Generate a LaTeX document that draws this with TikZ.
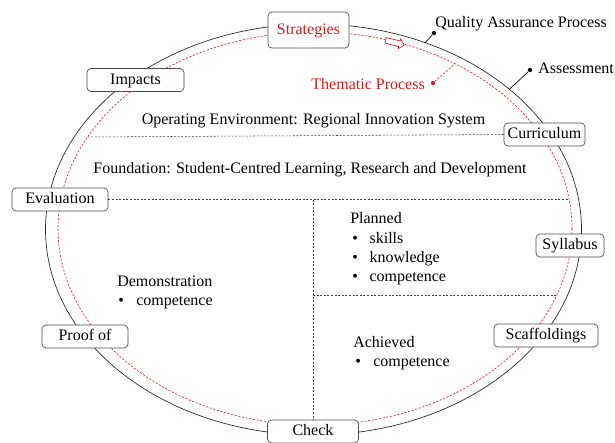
\documentclass[tikz,border=0pt]{standalone}
\usepackage{fontspec}
\setmainfont{Liberation Serif}
\usetikzlibrary{shapes.arrows}
\definecolor{redc}{RGB}{205,30,30}
\begin{document}
\begin{tikzpicture}[x=0.75pt,y=-0.75pt,
  box/.style={draw=black!70, rounded corners=3pt, fill=white, minimum height=17.25pt,
    text height=9pt, text depth=3pt, inner sep=0pt, font=\fontsize{12}{14.5}\selectfont, line width=0.5pt},
  lbl/.style={inner sep=0pt, font=\fontsize{12}{14.5}\selectfont},
  dl/.style={dash pattern=on 1.5pt off 1.2pt, line width=0.4pt, black!75},
  rdl/.style={dash pattern=on 1.6pt off 1.2pt, line width=0.45pt, redc},
  dotc/.style={circle, fill=#1, inner sep=0pt, minimum size=3.2pt},
  bul/.style={lbl, anchor=base west}
]
\useasboundingbox (0,0) rectangle (615,443);
% ellipses
\draw[line width=0.5pt, black!85] (313.5,229.5) ellipse [x radius=268, y radius=205.5];
\draw[rdl] (315,228.5) ellipse [x radius=257, y radius=196.5];
% ellipse contact points
\coordinate (qac) at (425.1,42.7);
\coordinate (asc) at (509.5,89.3);
\coordinate (thc) at (455,63.7);
\coordinate (l1a) at (87.6,137);
\coordinate (l2b) at (569,199.5);
\coordinate (l3b) at (556.8,295);
% nodes on ellipse
\node[box, minimum width=60.75pt, minimum height=27pt, text=redc] (str) at (308.5,30) {Strategies};
\node[box, minimum width=72.75pt] (imp) at (135.5,80) {Impacts};
\node[box, minimum width=72pt] (eva) at (60,199.5) {Evaluation};
\node[box, minimum width=60.75pt] (cur) at (544.5,134.5) {Curriculum};
\node[box, minimum width=51pt] (syl) at (570,245.5) {Syllabus};
\node[box, minimum width=78pt] (sca) at (546,335.5) {Scaffoldings};
\node[box, minimum width=64.5pt] (pro) at (85,336.5) {Proof of};
\node[box, minimum width=68.25pt] (chk) at (313,431.5) {Check};
% dashed partition lines
\draw[dl] (l1a) -- (cur.west);
\draw[dl] (eva.east) -- (l2b);
\coordinate (vtop) at (313,199.5);
\draw[dl] (vtop) -- (chk.north);
\coordinate (l3a) at (313,295);
\draw[dl] (l3a) -- (l3b);
% arrow on red ellipse
\node[single arrow, draw=redc, fill=white, line width=0.5pt, rotate=-13.8,
  minimum height=14.5pt, inner sep=1.9pt, single arrow head extend=1.6pt] (arr) at (393.5,42.3) {};
% outside labels
\node[lbl, anchor=base west] (qa) at (435,27) {Quality Assurance Process};
\node[dotc=black] (qad) at (434,33) {};
\draw[line width=0.5pt] (qad) -- (qac);
\node[lbl, anchor=base west] (as) at (538,73) {Assessment};
\node[dotc=black] (asd) at (530,70) {};
\draw[line width=0.5pt] (asd) -- (asc);
\node[lbl, anchor=base east, text=redc] (th) at (425,89) {Thematic Process};
\node[dotc=redc] (thd) at (433,83) {};
\draw[rdl] (thd) -- (thc);
% inner texts
\node[lbl, anchor=base] (op) at (313.5,124) {Operating Environment: Regional Innovation System};
\node[lbl, anchor=base] (fo) at (310,173) {Foundation: Student-Centred Learning, Research and Development};
\node[bul] (pl) at (350,223) {Planned};
\node[bul] (pl1) at (352,243) {\makebox[13pt][l]{\textbullet}skills};
\node[bul] (pl2) at (352,262) {\makebox[13pt][l]{\textbullet}knowledge};
\node[bul] (pl3) at (352,281) {\makebox[13pt][l]{\textbullet}competence};
\node[bul] (de) at (117,286) {Demonstration};
\node[bul] (de1) at (118,305) {\makebox[13.5pt][l]{\textbullet}competence};
\node[bul] (ac) at (353,347) {Achieved};
\node[bul] (ac1) at (355,366) {\makebox[13.5pt][l]{\textbullet}competence};
\end{tikzpicture}
\end{document}
